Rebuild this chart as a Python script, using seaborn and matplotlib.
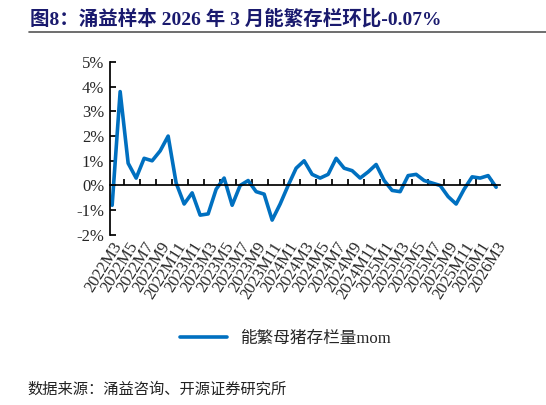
import matplotlib
matplotlib.use("Agg")
import matplotlib.pyplot as plt
import seaborn as sns
import pandas as pd
import numpy as np
from matplotlib.ticker import FuncFormatter

months = []
for y in range(2022, 2027):
    for m in range(1, 13):
        if (y == 2022 and m < 3) or (y == 2026 and m > 3):
            continue
        months.append(f"{y}M{m}")
values = [-0.8, 3.8, 0.9, 0.3, 1.1, 1.0, 1.4, 2.0, 0.1, -0.75,
          -0.3, -1.2, -1.15, -0.15, 0.3, -0.8, 0.0, 0.2, -0.25, -0.35,
          -1.4, -0.75, 0.0, 0.7, 1.0, 0.45, 0.3, 0.45, 1.1, 0.7,
          0.6, 0.3, 0.55, 0.85, 0.2, -0.2, -0.25, 0.4, 0.45, 0.2,
          0.1, 0.0, -0.45, -0.75, -0.15, 0.35, 0.3, 0.4, -0.07]
title = "图8：涌益样本 2026 年 3 月能繁存栏环比-0.07%"
series_name = "能繁母猪存栏量mom"
source = "数据来源：涌益咨询、开源证券研究所"

sns.set_theme(style="white")
plt.rcParams['font.family'] = ['Liberation Serif', 'Noto Sans CJK SC', 'DejaVu Sans']

df = pd.DataFrame({"x": np.arange(len(values)), "v": values})
fig = plt.figure(figsize=(5.46, 4.05), dpi=100)
ax = fig.add_axes([0.201, 0.42, 0.715, 0.427])
sns.lineplot(data=df, x="x", y="v", ax=ax, color="#0070C0", lw=2.6, label=series_name)

ax.set_ylim(-2, 5)
ax.set_xlim(-0.3, len(values) - 0.5)
ax.set_yticks(range(-2, 6))
ax.yaxis.set_major_formatter(FuncFormatter(lambda v, p: f"{int(v)}%"))
ax.tick_params(axis='y', labelsize=12, length=4, direction='in', color='black', left=True, pad=4)
for s in ["top", "right"]:
    ax.spines[s].set_visible(False)
ax.spines["left"].set_color("black")
ax.spines["bottom"].set_color("black")
ax.spines["bottom"].set_position(("data", 0))
ax.set_xticks(np.arange(1.5, len(values), 2))
ax.set_xticklabels([])
ax.tick_params(axis='x', direction='in', length=4, color='black', bottom=True)
ax.set_xlabel("")
ax.set_ylabel("")

sec = ax.secondary_xaxis(0)
sec.set_xticks(np.arange(0, len(values), 2))
sec.set_xticklabels(months[::2], rotation=58, ha='right', rotation_mode='anchor', fontsize=12)
sec.tick_params(length=0, pad=3)
sec.spines["bottom"].set_visible(False)

ax.legend(loc="upper center", bbox_to_anchor=(0.45, -0.47), frameon=False,
          fontsize=12, handlelength=2.8)

fig.text(0.055, 0.955, title, fontsize=14, fontweight='bold', color="#1a1a6e",
         family=['Liberation Serif', 'Noto Sans CJK SC'], va='center')
fig.add_artist(plt.Line2D([0.053, 1.0], [0.922, 0.922], color="#555555", lw=1.2))
fig.text(0.05, 0.04, source, fontsize=11, color="#222222",
         family=['Noto Sans CJK SC'], va='center')
fig.savefig("out.png", dpi=100)
